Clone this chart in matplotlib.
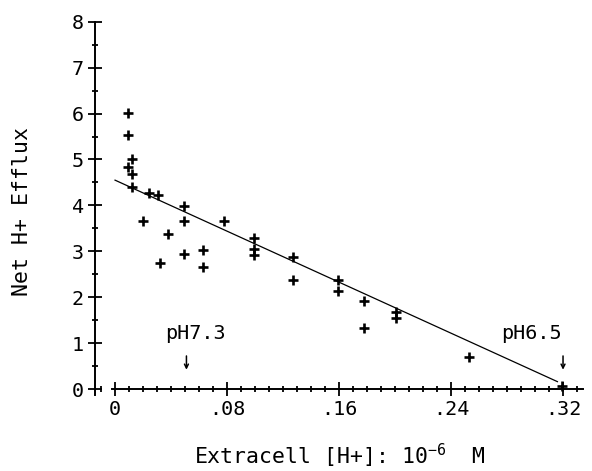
import numpy as np
import matplotlib
matplotlib.use("Agg")
from matplotlib import pyplot as plt
from matplotlib.ticker import MultipleLocator, FixedLocator

# extracellular [H+] (10^-6 M) and net H+ efflux
hConc = [0.009, 0.009, 0.012, 0.009, 0.012, 0.012, 0.024, 0.031, 0.049, 0.020,
         0.049, 0.078, 0.038, 0.032, 0.049, 0.063, 0.063, 0.099, 0.099, 0.099,
         0.127, 0.127, 0.159, 0.159, 0.178, 0.178, 0.201, 0.201, 0.253, 0.319]
efflux = [6.02, 5.53, 5.01, 4.84, 4.68, 4.39, 4.28, 4.22, 3.99, 3.66,
          3.66, 3.66, 3.37, 2.75, 2.94, 3.03, 2.66, 3.28, 3.04, 2.93,
          2.88, 2.37, 2.37, 2.14, 1.91, 1.33, 1.68, 1.54, 0.70, 0.07]

# fitted line end points
fitX = [0.0, 0.316]
fitY = [4.55, 0.16]

# pH markers
phLabels = ["pH7.3", "pH6.5"]
phArrowX = [0.051, 0.320]
phTextX = [0.036, 0.276]

xTicks = [0, 0.08, 0.16, 0.24, 0.32]
xTickLabels = ["0", ".08", ".16", ".24", ".32"]
yTicks = [0, 1, 2, 3, 4, 5, 6, 7, 8]

FONT = "DejaVu Sans Mono"
FS = 14.5
LFS = 15.5

plt.rcParams['font.family'] = FONT
plt.rcParams['mathtext.fontset'] = 'custom'
plt.rcParams['mathtext.rm'] = FONT
plt.rcParams['mathtext.it'] = FONT

fig = plt.figure(figsize=(5.92, 4.71), dpi=100)
ax = fig.add_axes([0.1605, 0.1546, 0.8284, 0.8089])
ax.set_xlim(-0.0143, 0.336)
ax.set_ylim(-0.2, 8.1)

ax.spines['top'].set_visible(False)
ax.spines['right'].set_visible(False)
ax.spines['bottom'].set_position(('data', 0))
ax.spines['bottom'].set_bounds(-0.002, 0.334)
ax.spines['left'].set_bounds(-0.12, 8.0)
for s in ('bottom', 'left'):
    ax.spines[s].set_linewidth(1.4)

ax.xaxis.set_major_locator(FixedLocator(xTicks))
ax.set_xticklabels(xTickLabels)
ax.xaxis.set_minor_locator(MultipleLocator(0.01))
ax.yaxis.set_major_locator(FixedLocator(yTicks))
ax.yaxis.set_minor_locator(MultipleLocator(0.5))
ax.tick_params(which='major', direction='inout', length=10, width=1.3,
               labelsize=FS, pad=3)
ax.tick_params(which='minor', direction='inout', length=5, width=1.3)

# data and fit
ax.plot(hConc, efflux, linestyle='none', marker='+', markersize=6.5,
        markeredgewidth=1.9, color='black', clip_on=False)
ax.plot(fitX, fitY, color='black', lw=0.9)

for lab, ax_x, tx in zip(phLabels, phArrowX, phTextX):
    ax.text(tx, 1.2, lab, fontsize=FS, ha='left', va='center')
    ax.annotate("", xy=(ax_x, 0.42), xytext=(ax_x, 0.72),
                arrowprops=dict(arrowstyle='->', color='black', lw=1.1,
                                mutation_scale=7, shrinkA=0, shrinkB=0))

ax.set_xlabel("Extracell [H+]: 10$^{-6}$  M", fontsize=LFS, labelpad=16)
ax.set_ylabel("Net H+ Efflux", fontsize=LFS)
ax.yaxis.set_label_coords(-0.128, 0.49)

fig.savefig("out.png", dpi=100)
